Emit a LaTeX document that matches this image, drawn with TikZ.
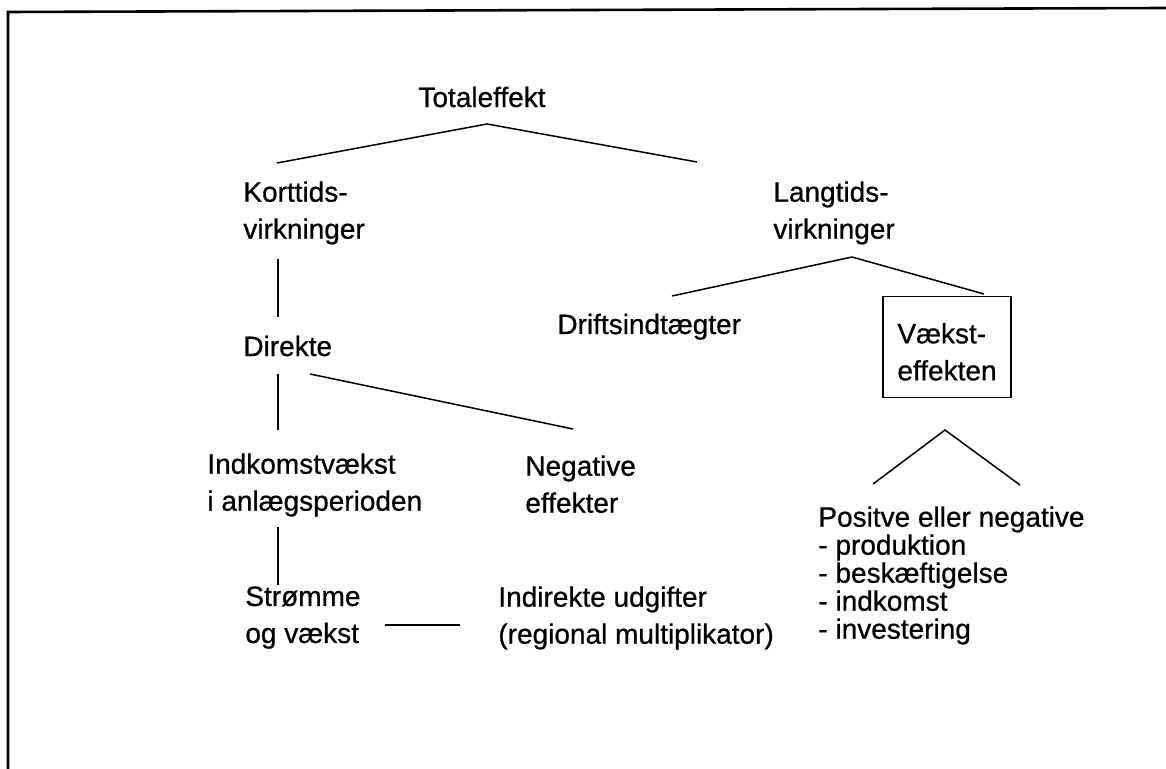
\documentclass[tikz,border=0pt]{standalone}
\usepackage{fontspec}
\setmainfont{Liberation Sans}[FakeBold=0.7]

\begin{document}
\begin{tikzpicture}[
        x=0.5pt,
        y=-0.5pt,
        font=\fontsize{14}{18.5}\selectfont,
        lbl/.style={inner sep=0pt, anchor=north west, align=left},
        conn/.style={line width=0.75pt},
        boxed/.style={draw, line width=0.75pt, align=left, inner sep=0pt,
            minimum width=64pt, minimum height=50.5pt}
    ]
        \useasboundingbox (0,0) rectangle (1166,769);
        \draw[line width=1.3pt] (8,769) -- (8,12) -- (1166,8);

        \node (total) at (482,97) {Totaleffekt};
        \node[lbl] (kort) at (243,181) {Korttids-\\virkninger};
        \node[lbl] (lang) at (773,181) {Langtids-\\virkninger};
        \node[lbl, anchor=west] (direkte) at (243,346) {Direkte};
        \node[lbl, anchor=base west] (drift) at (557,334) {Driftsindtægter};
        \node[boxed] (vaekst) at (947,347) {\rule{0pt}{15pt}Vækst-\\effekten};
        \node[lbl] (indk) at (207,453) {Indkomstvækst\\i anlægsperioden};
        \node[lbl] (neg) at (525,455) {Negative\\effekter};
        \node[lbl] (stroem) at (245,586) {Strømme\\og vækst};
        \node[lbl] (indir) at (498,586) {Indirekte udgifter\\(regional multiplikator)};
        \node[lbl, font=\fontsize{14}{14}\selectfont] (pos) at (818,506)
            {Positve eller negative\\- produktion\\- beskæftigelse\\- indkomst\\- investering};

        \coordinate (tot-top) at (487,124);
        \coordinate (kort-top) at (277,163);
        \coordinate (lang-top) at (697,162);
        \coordinate (kort-bot) at (278,259);
        \coordinate (dir-top) at (278,317);
        \coordinate (dir-bot) at (278,374);
        \coordinate (dir-side) at (310,374);
        \coordinate (indk-top) at (278,430);
        \coordinate (neg-top) at (573,429);
        \coordinate (indk-bot) at (278,527);
        \coordinate (str-top) at (278,585);
        \coordinate (str-side) at (385,625);
        \coordinate (indir-side) at (460,625);
        \coordinate (lang-bot) at (852,257);
        \coordinate (drift-top) at (672,296);
        \coordinate (vaekst-top) at (984,294);
        \coordinate (vaekst-bot) at (945,430);
        \coordinate (pos-l) at (873,484);
        \coordinate (pos-r) at (1020,485);

        \draw[conn] (kort-top) -- (tot-top) -- (lang-top);
        \draw[conn] (kort-bot) -- (dir-top);
        \draw[conn] (dir-bot) -- (indk-top);
        \draw[conn] (dir-side) -- (neg-top);
        \draw[conn] (indk-bot) -- (str-top);
        \draw[conn] (str-side) -- (indir-side);
        \draw[conn] (drift-top) -- (lang-bot) -- (vaekst-top);
        \draw[conn] (pos-l) -- (vaekst-bot) -- (pos-r);
    \end{tikzpicture}
\end{document}
